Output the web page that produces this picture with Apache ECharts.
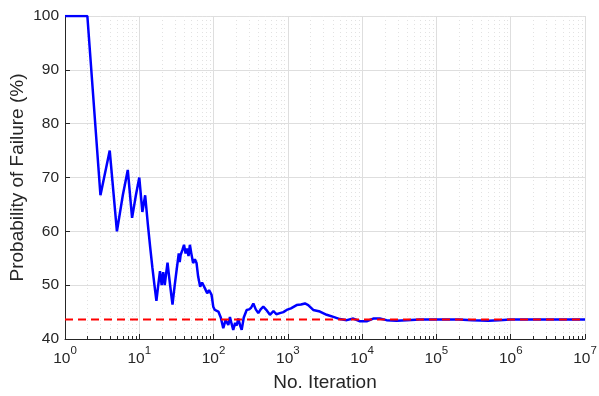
<!DOCTYPE html>
<html>
<head>
<meta charset="utf-8">
<script src="https://cdn.jsdelivr.net/npm/echarts@6/dist/echarts.min.js"></script>
<style>
  html, body { margin: 0; padding: 0; background: #fff; }
  #chart { width: 599px; height: 396px; }
</style>
</head>
<body>
<div id="chart"></div>
<script>
// running estimate
var iterations = [1, 2, 3, 4, 5, 6, 7, 8, 9, 10, 11, 12, 13, 14, 15, 16, 17, 18, 19, 20,
  21, 22, 23, 24, 25, 26, 27, 28, 29, 30, 31, 32, 33, 34, 35, 36, 38, 40, 42, 44,
  46, 48, 50, 53, 56, 59, 62, 66, 70, 76, 82, 87, 94, 99, 104, 110, 116, 125, 135, 145,
  158, 166, 175, 184, 195, 205, 215, 228, 239, 255, 279, 300, 320, 343, 370, 400, 430, 467, 520, 574,
  640, 700, 780, 870, 964, 1100, 1312, 1500, 1700, 1880, 2196, 2700, 3330, 4100, 5026, 6200, 7600, 9340, 11500, 14100,
  17300, 21300, 29100, 40000, 60000, 100000, 200000, 300000, 500000, 700000, 1000000, 2000000, 5000000, 10000000];
var failurePct = [100, 100, 66.7, 75, 60, 66.7, 71.4, 62.5, 66.7, 70, 63.6, 66.7, 61.5, 57.1, 53.3, 50, 47.1, 50, 52.6, 50,
  52.4, 50, 52.2, 54.2, 52, 50, 48.1, 46.4, 48.3, 50, 51.6, 53.1, 54.5, 55.9, 54.3, 55.6, 56.5, 57.5, 55.9, 56.8,
  55.4, 57.5, 56, 54.1, 54.8, 54.1, 51.6, 49.7, 50.5, 49.5, 48.5, 49.1, 48.2, 46, 45.4, 45.5, 45.1, 44, 42, 43.5,
  42.6, 44.1, 42.8, 41.7, 43, 42.5, 43.8, 42.5, 41.7, 44, 45.4, 45.5, 45.8, 46.6, 45.5, 44.8, 45.5, 46, 45.3, 44.5,
  45.2, 44.6, 44.8, 45, 45.4, 45.7, 46.3, 46.4, 46.6, 46.3, 45.4, 45.1, 44.5, 44.1, 43.7, 43.5, 43.8, 43.3, 43.3, 43.8,
  43.8, 43.5, 43.4, 43.5, 43.6, 43.6, 43.6, 43.5, 43.4, 43.5, 43.6, 43.6, 43.6, 43.6];
var referenceValue = 43.6;
var xRange = [1, 10000000];
var yTicks = [40, 50, 60, 70, 80, 90, 100];

var textColor = '#262626';
var font = 'Liberation Sans, Arial, sans-serif';

// minor ticks of the log axis: 2..9 inside every decade
var minorTicks = [];
for (var d = 1; d < xRange[1]; d *= 10) {
  for (var k = 2; k <= 9; k++) minorTicks.push(k * d);
}

var chart = echarts.init(document.getElementById('chart'));

var option = {
  backgroundColor: '#fff',
  animation: false,
  grid: { left: 65, right: 14, top: 16, bottom: 57, containLabel: false, outerBoundsMode: 'none' },
  xAxis: {
    type: 'log',
    logBase: 10,
    min: xRange[0],
    max: xRange[1],
    splitNumber: 7,
    name: 'No. Iteration',
    nameLocation: 'middle',
    nameGap: 34,
    nameMoveOverlap: false,
    nameTextStyle: { color: textColor, fontSize: 19, fontFamily: font },
    axisLine: { lineStyle: { color: textColor, width: 1 } },
    axisTick: { inside: true, length: 5, lineStyle: { color: textColor } },
    splitLine: { show: true, lineStyle: { color: '#dedede', width: 1 } },
    axisLabel: {
      margin: 6,
      formatter: function (v) {
        var e = Math.round(Math.log10(v));
        return '{b|10}{s|' + e + '}';
      },
      rich: {
        b: { fontSize: 15.5, fontFamily: font, color: textColor, lineHeight: 22, verticalAlign: 'bottom' },
        s: { fontSize: 11.5, fontFamily: font, color: textColor, lineHeight: 12, verticalAlign: 'top' }
      }
    }
  },
  yAxis: {
    type: 'value',
    min: yTicks[0],
    max: yTicks[yTicks.length - 1],
    interval: 10,
    name: 'Probability of Failure (%)',
    nameLocation: 'middle',
    nameGap: 38,
    nameMoveOverlap: false,
    nameTextStyle: { color: textColor, fontSize: 19, fontFamily: font },
    axisLine: { show: true, lineStyle: { color: textColor, width: 1 } },
    axisTick: { show: true, inside: true, length: 5, lineStyle: { color: textColor } },
    splitLine: { show: true, lineStyle: { color: '#dedede', width: 1 } },
    axisLabel: { color: textColor, fontSize: 15.5, fontFamily: font, margin: 6 }
  },
  series: [
    {
      // dotted minor grid and short minor ticks on the log axis
      name: 'minor',
      type: 'custom',
      silent: true,
      z: 1,
      data: minorTicks.map(function (v) { return [v, yTicks[0]]; }),
      encode: { x: 0, y: 1 },
      renderItem: function (params, api) {
        var v = api.value(0);
        var bot = api.coord([v, yTicks[0]]);
        var top = api.coord([v, yTicks[yTicks.length - 1]]);
        var x = Math.round(bot[0]) + 0.5;
        return {
          type: 'group',
          children: [
            {
              type: 'line',
              shape: { x1: x, y1: top[1], x2: x, y2: bot[1] },
              style: { stroke: '#e2e2e2', lineWidth: 1, lineDash: [1, 3] }
            },
            {
              type: 'line',
              shape: { x1: x, y1: bot[1], x2: x, y2: bot[1] - 3 },
              style: { stroke: textColor, lineWidth: 1 }
            }
          ]
        };
      }
    },
    {
      name: 'estimate',
      type: 'line',
      data: iterations.map(function (n, i) { return [n, failurePct[i]]; }),
      showSymbol: false,
      lineStyle: { color: '#0000ff', width: 2.5 },
      z: 3
    },
    {
      name: 'reference',
      type: 'line',
      data: [[xRange[0], referenceValue], [xRange[1], referenceValue]],
      showSymbol: false,
      lineStyle: { color: '#ff0000', width: 2, type: [8, 5] },
      z: 4
    }
  ]
};

chart.setOption(option);
</script>
</body>
</html>
